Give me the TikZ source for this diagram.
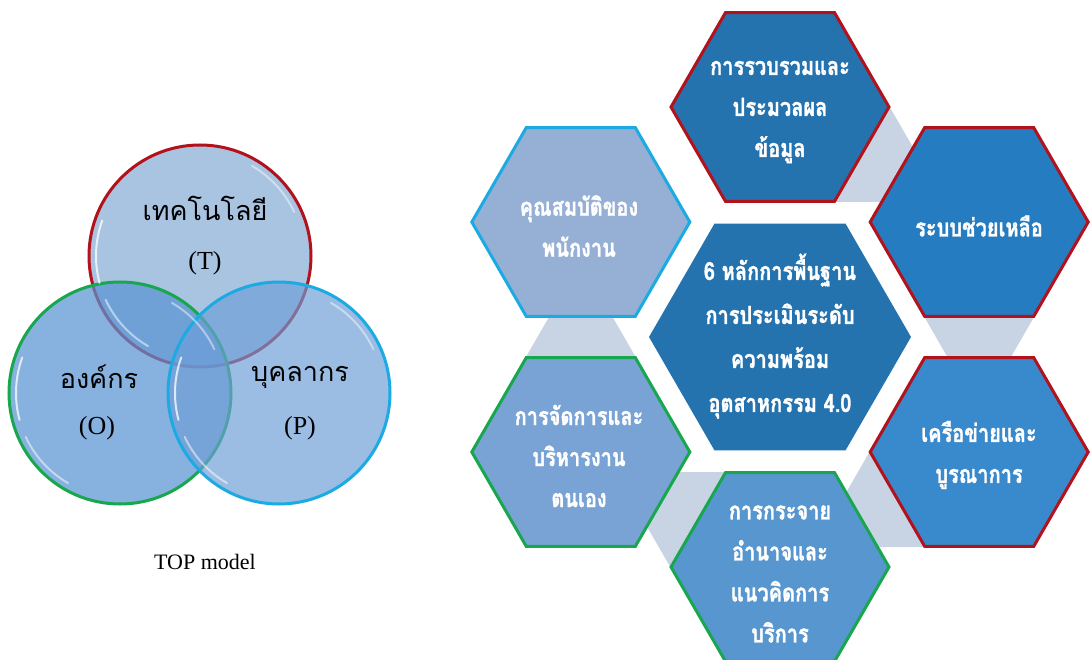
\documentclass[tikz,border=0pt]{standalone}
\usepackage{fontspec}
\setmainfont{Liberation Serif}
\newfontfamily\thaifont[Script=Thai]{Loma}
\newfontfamily\thaihead[Script=Thai,FakeStretch=0.8,FakeBold=1.2]{Loma}
\usetikzlibrary{shapes.geometric,calc}

\definecolor{hexA}{RGB}{36,115,175}
\definecolor{hexB}{RGB}{38,124,192}
\definecolor{hexC}{RGB}{57,137,205}
\definecolor{hexD}{RGB}{88,150,208}
\definecolor{hexE}{RGB}{120,163,212}
\definecolor{hexF}{RGB}{149,176,212}
\definecolor{rimred}{RGB}{178,18,28}
\definecolor{rimgreen}{RGB}{24,166,78}
\definecolor{rimcyan}{RGB}{28,170,226}
\definecolor{linkgray}{RGB}{200,212,228}
\definecolor{vennT}{RGB}{160,190,222}
\definecolor{vennO}{RGB}{90,148,212}
\definecolor{vennP}{RGB}{110,158,215}

\tikzset{
  hexouter/.style={regular polygon, regular polygon sides=6, minimum size=218pt,
    inner sep=0pt, line width=3pt, line join=miter},
  hexcentre/.style={regular polygon, regular polygon sides=6, minimum size=262pt,
    inner sep=0pt},
  hextext/.style={text=white, align=center,
    font=\thaihead\bfseries\fontsize{25}{41}\selectfont},
  link/.style={fill=linkgray},
  venn/.style={circle, minimum size=222pt, inner sep=0pt, line width=3pt},
  gloss/.style={white, line width=2pt, opacity=0.75, line cap=round},
  venntext/.style={text=black, font=\thaifont\fontsize{27}{30}\selectfont},
  vennletter/.style={text=black, font=\fontsize{26}{30}\selectfont},
}

\begin{document}
\begin{tikzpicture}[x=1pt,y=-1pt]
\fill[white] (0,0) rectangle (1090,660);
\useasboundingbox (0,0) rectangle (1090,660);

% ---------- TOP model: three overlapping circles ----------
\node[venn, fill=vennT, fill opacity=0.9, draw=rimred] (cT) at (200,256) {};
\node[venn, fill=vennO, fill opacity=0.72, draw=rimgreen] (cO) at (120,393) {};
\node[venn, fill=vennP, fill opacity=0.68, draw=rimcyan] (cP) at (279,393) {};

% glossy highlights along the rims
\foreach \c in {cT,cO,cP}{
  \draw[gloss] ($(\c.center)+(160:104pt)$) arc[start angle=160, end angle=195, radius=104pt];
  \draw[gloss, opacity=0.5] ($(\c.center)+(205:104pt)$) arc[start angle=205, end angle=240, radius=104pt];
  \draw[gloss, opacity=0.45] ($(\c.center)+(25:104pt)$) arc[start angle=25, end angle=60, radius=104pt];
}

\node[venntext] (lT) at (205,208) {เทคโนโลยี};
\node[vennletter] (kT) at (205,263) {(T)};
\node[venntext] (lO) at (99,377) {องค์กร};
\node[vennletter] (kO) at (97,428) {(O)};
\node[venntext] (lP) at (300,377) {บุคลากร};
\node[vennletter] (kP) at (300,428) {(P)};
\node[font=\fontsize{22}{26}\selectfont] (cap) at (205,562) {TOP model};

% ---------- 6 principles: hexagon ring ----------
\coordinate (oT)  at (780,107);
\coordinate (oRT) at (979.2,222);
\coordinate (oRB) at (979.2,452);
\coordinate (oB)  at (780,567);
\coordinate (oLB) at (580.8,452);
\coordinate (oLT) at (580.8,222);

% grey links between consecutive outer hexagons (drawn behind)
\coordinate (m1) at ($(oT)!0.5!(oRT)$);
\coordinate (m2) at ($(oRT)!0.5!(oRB)$);
\coordinate (m3) at ($(oRB)!0.5!(oB)$);
\coordinate (m4) at ($(oB)!0.5!(oLB)$);
\coordinate (m5) at ($(oLB)!0.5!(oLT)$);
\foreach \m/\a in {m1/-30, m2/-90, m3/-150, m4/150, m5/90}{
  \fill[link] ($(\m)+(\a:75pt)$) -- ($(\m)+(\a+120:75pt)$) -- ($(\m)+(\a-120:75pt)$) -- cycle;
}

\node[hexcentre, fill=hexA] (hC) at (780,337) {};
\node[hexouter, fill=hexA, draw=rimred]   (hT)  at (oT)  {};
\node[hexouter, fill=hexB, draw=rimred]   (hRT) at (oRT) {};
\node[hexouter, fill=hexC, draw=rimred]   (hRB) at (oRB) {};
\node[hexouter, fill=hexD, draw=rimgreen] (hB)  at (oB)  {};
\node[hexouter, fill=hexE, draw=rimgreen] (hLB) at (oLB) {};
\node[hexouter, fill=hexF, draw=rimcyan]  (hLT) at (oLT) {};

\node[hextext, font=\thaihead\bfseries\fontsize{25}{44}\selectfont] (tC) at (780,336)
  {6 หลักการพื้นฐาน\\การประเมินระดับ\\ความพร้อม\\อุตสาหกรรม 4.0};
\node[hextext] (tT)  at (780,112) {การรวบรวมและ\\ประมวลผล\\ข้อมูล};
\node[hextext] (tRT) at (979,226) {ระบบช่วยเหลือ};
\node[hextext] (tRB) at (979,455) {เครือข่ายและ\\บูรณาการ};
\node[hextext] (tB)  at (780,574) {การกระจาย\\อำนาจและ\\แนวคิดการ\\บริการ};
\node[hextext] (tLB) at (579,456) {การจัดการและ\\บริหารงาน\\ตนเอง};
\node[hextext] (tLT) at (579,226) {คุณสมบัติของ\\พนักงาน};
\end{tikzpicture}
\end{document}
